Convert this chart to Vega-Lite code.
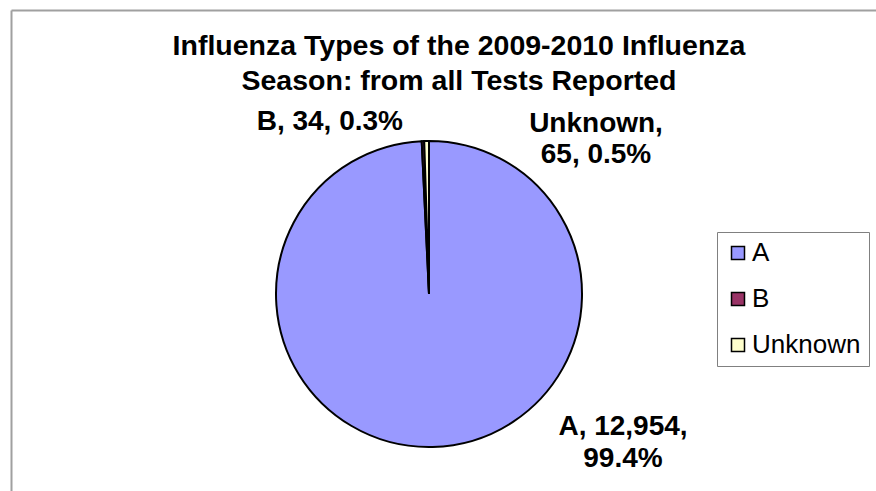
{
  "$schema": "https://vega.github.io/schema/vega-lite/v6.json",
  "width": 836,
  "height": 568,
  "autosize": "none",
  "padding": {"left": 11, "top": 10, "right": 29, "bottom": 0},
  "background": "white",
  "config": {"view": {"stroke": null}, "font": "Liberation Sans"},
  "title": {
    "text": ["Influenza Types of the 2009-2010 Influenza", "Season: from all Tests Reported"],
    "font": "Liberation Sans",
    "fontSize": 28.5,
    "fontWeight": "bold",
    "color": "black",
    "lineHeight": 35,
    "anchor": "middle",
    "orient": "top",
    "baseline": "alphabetic",
    "offset": -108,
    "dx": 30
  },
  "data": {
    "values": [
      {"type": "A", "count": 12954, "label": "A, 12,954,\n99.4%"},
      {"type": "B", "count": 34, "label": "B, 34, 0.3%"},
      {"type": "Unknown", "count": 65, "label": "Unknown,\n65, 0.5%"}
    ]
  },
  "layer": [
    {
      "mark": {"type": "point", "opacity": 0},
      "encoding": {
        "x": {"datum": 0, "type": "quantitative", "scale": {"domain": [0, 1], "range": [0, 866]},
              "axis": {"orient": "top", "domain": true, "domainColor": "#a0a0a0", "domainWidth": 2, "ticks": false, "labels": false, "grid": false, "title": null}},
        "y": {"datum": 0, "type": "quantitative", "scale": {"domain": [0, 1]},
              "axis": {"orient": "left", "domain": true, "domainColor": "#a0a0a0", "domainWidth": 2, "ticks": false, "labels": false, "grid": false, "title": null}}
      }
    },
    {
      "mark": {"type": "arc", "radius": 153, "stroke": "black", "strokeWidth": 2},
      "encoding": {
        "theta": {"field": "count", "type": "quantitative", "stack": true},
        "color": {
          "field": "type", "type": "nominal",
          "scale": {"domain": ["A", "B", "Unknown"], "range": ["#9999FF", "#993366", "#FFFFCC"]},
          "legend": {
            "orient": "none", "legendX": 706, "legendY": 222,
            "title": null,
            "symbolType": "square", "symbolSize": 169,
            "symbolStrokeColor": "black", "symbolStrokeWidth": 1.5,
            "labelFont": "Liberation Sans", "labelFontSize": 26, "labelColor": "black",
            "labelOffset": 1, "rowPadding": 20,
            "strokeColor": "#808080", "fillColor": "white",
            "padding": 8
          }
        }
      }
    },
    {
      "transform": [{"filter": "datum.type === 'A'"}],
      "mark": {"type": "text", "font": "Liberation Sans", "fontSize": 28, "fontWeight": "bold", "color": "black", "align": "center", "baseline": "alphabetic", "lineBreak": "\n", "lineHeight": 32, "dx": 194, "dy": 141},
      "encoding": {"text": {"field": "label"}}
    },
    {
      "transform": [{"filter": "datum.type === 'B'"}],
      "mark": {"type": "text", "font": "Liberation Sans", "fontSize": 28, "fontWeight": "bold", "color": "black", "align": "right", "baseline": "alphabetic", "dx": -26, "dy": -164},
      "encoding": {"text": {"field": "label"}}
    },
    {
      "transform": [{"filter": "datum.type === 'Unknown'"}],
      "mark": {"type": "text", "font": "Liberation Sans", "fontSize": 28, "fontWeight": "bold", "color": "black", "align": "center", "baseline": "alphabetic", "lineBreak": "\n", "lineHeight": 31, "dx": 167, "dy": -162},
      "encoding": {"text": {"field": "label"}}
    }
  ]
}
